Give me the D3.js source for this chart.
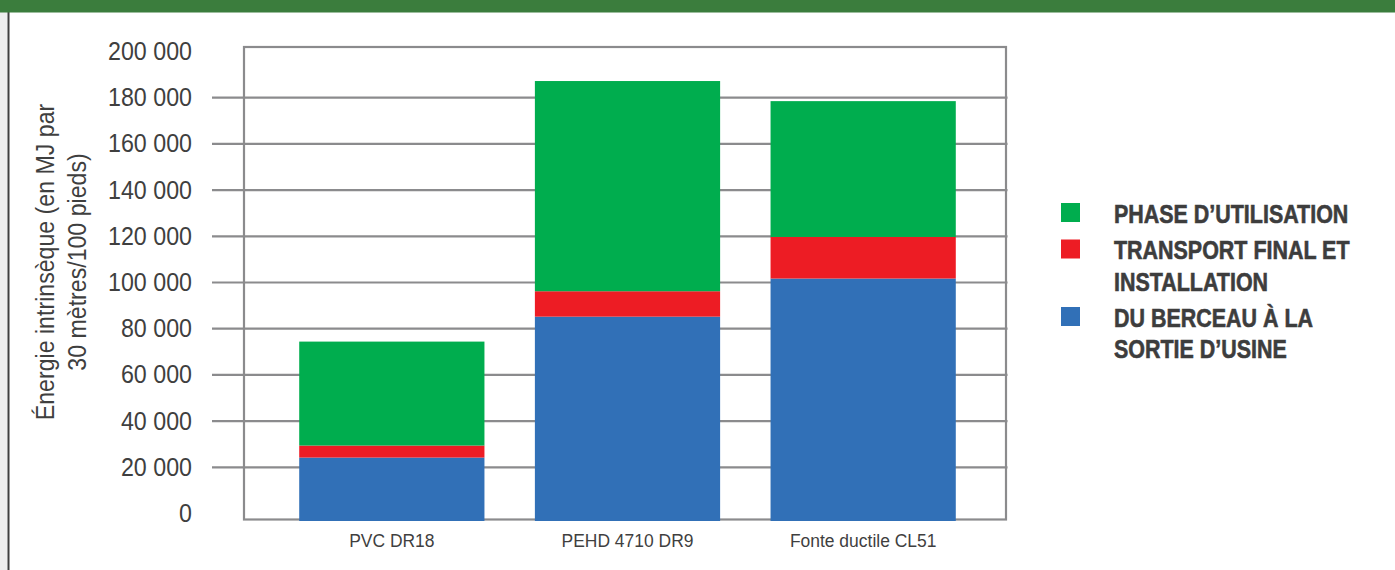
<!DOCTYPE html>
<html>
<head>
<meta charset="utf-8">
<script src="https://cdn.jsdelivr.net/npm/d3@7"></script>
<style>
  body { margin: 0; background: #fff; }
  svg { display: block; }
</style>
</head>
<body>
<div id="chart"></div>
<script>
// data (MJ per 30 m / 100 ft)
var categories = ['PVC DR18', 'PEHD 4710 DR9', 'Fonte ductile CL51'];
var berceau = [24000, 85000, 101500];      // du berceau a la sortie d'usine
var transport = [5200, 11000, 18000];      // transport final et installation
var utilisation = [45000, 91000, 58800];   // phase d'utilisation
var yTicks = [0, 20000, 40000, 60000, 80000, 100000, 120000, 140000, 160000, 180000, 200000];
var seriesKeys = ['berceau', 'transport', 'utilisation'];
var seriesColors = ['#3170b7', '#ed1c24', '#00ad4e'];
var legendItems = [
  { key: 'utilisation', lines: ['PHASE D\u2019UTILISATION'] },
  { key: 'transport', lines: ['TRANSPORT FINAL ET', 'INSTALLATION'] },
  { key: 'berceau', lines: ['DU BERCEAU \u00C0 LA', 'SORTIE D\u2019USINE'] }
];
var yTitle = ['\u00C9nergie intrins\u00E8que (en MJ par', '30 m\u00E8tres/100 pieds)'];

var W = 1395, H = 570;
var frame = { left: 244, right: 1006, top: 47, bottom: 519.5 };
var FONT = '"Liberation Sans", Arial, sans-serif';

// squeeze text horizontally to mimic the condensed face of the original
function condense(sel, k) {
  sel.each(function() {
    var n = this.getComputedTextLength();
    d3.select(this).attr('textLength', n * k).attr('lengthAdjust', 'spacingAndGlyphs');
  });
}

var table = categories.map(function(c, i) {
  return { cat: c, berceau: berceau[i], transport: transport[i], utilisation: utilisation[i] };
});
var stacked = d3.stack().keys(seriesKeys)(table);
var color = d3.scaleOrdinal().domain(seriesKeys).range(seriesColors);

var x = d3.scaleBand().domain(categories).range([274, 981]).paddingInner(0.214).paddingOuter(0.107);
var y = d3.scaleLinear().domain([0, 200000]).range([513, 51]);

var fmt = d3.formatLocale({ decimal: ',', thousands: ' ', grouping: [3], currency: ['', ''] }).format(',d');

var svg = d3.select('#chart').append('svg').attr('width', W).attr('height', H);

svg.append('rect').attr('width', W).attr('height', H).attr('fill', '#fff');
// page edge + header band
svg.append('rect').attr('x', 0).attr('y', 0).attr('width', 7.5).attr('height', H).attr('fill', '#efefef');
svg.append('rect').attr('x', 7.5).attr('y', 0).attr('width', 2).attr('height', H).attr('fill', '#404040');
svg.append('rect').attr('x', 0).attr('y', 0).attr('width', W).attr('height', 12.5).attr('fill', '#3b7d3d');

// gridlines + tick labels
var yAxis = d3.axisLeft(y).tickValues(yTicks).tickFormat(fmt)
  .tickSize(-(1007.5 - 212)).tickPadding(20);
var gy = svg.append('g').attr('transform', 'translate(212,0)').call(yAxis);
gy.select('.domain').remove();
gy.selectAll('.tick line')
  .attr('stroke', '#8b8b8d').attr('stroke-width', 2.2)
  .filter(function(d) { return d === 0 || d === 200000; }).remove();
gy.selectAll('.tick text')
  .attr('fill', '#3f3f3f')
  .style('font-family', FONT)
  .style('font-size', '25px')
  .attr('dy', '0.34em')
  .call(condense, 0.93);

// plot frame
svg.append('rect')
  .attr('x', frame.left).attr('y', frame.top)
  .attr('width', frame.right - frame.left).attr('height', frame.bottom - frame.top)
  .attr('fill', 'none').attr('stroke', '#8b8b8d').attr('stroke-width', 2.2);

// stacked bars
svg.append('g').selectAll('g').data(stacked).join('g')
  .attr('fill', function(s) { return color(s.key); })
  .selectAll('rect').data(function(s) { return s; }).join('rect')
    .attr('x', function(d) { return x(d.data.cat); })
    .attr('width', x.bandwidth())
    .attr('y', function(d) { return y(d[1]); })
    .attr('height', function(d) {
      var base = d[0] === 0 ? frame.bottom + 1.5 : y(d[0]);
      return base - y(d[1]);
    });

// category labels
svg.append('g').selectAll('text').data(categories).join('text')
  .attr('x', function(c) { return x(c) + x.bandwidth() / 2; })
  .attr('y', 547)
  .attr('text-anchor', 'middle')
  .attr('fill', '#3f3f3f')
  .style('font-family', FONT)
  .style('font-size', '18px')
  .text(function(c) { return c; })
  .call(condense, 0.97);

// y title, two lines
svg.append('g').attr('transform', 'translate(0,262) rotate(-90)')
  .selectAll('text').data(yTitle).join('text')
    .attr('x', 0)
    .attr('y', function(d, i) { return 54 + i * 32; })
    .attr('text-anchor', 'middle')
    .attr('fill', '#3f3f3f')
    .style('font-family', FONT)
    .style('font-size', '26px')
    .text(function(d) { return d; })
    .call(condense, 0.89);

// legend (text squeezed with a transform so it stays within 1395px)
var lg = svg.append('g').selectAll('g').data(legendItems).join('g')
  .attr('transform', function(d, i) { return 'translate(1061,' + [203, 239.5, 307][i] + ')'; });
lg.append('rect').attr('width', 19).attr('height', 19)
  .attr('fill', function(d) { return color(d.key); });
lg.selectAll('g.line').data(function(d) { return d.lines; }).join('g')
  .attr('class', 'line')
  .attr('transform', function(d, i) { return 'translate(53,' + (19.5 + i * 31.5) + ') scale(0.825,1)'; })
  .append('text')
    .attr('fill', '#3d3d3d')
    .attr('stroke', '#3d3d3d')
    .attr('stroke-width', 0.6)
    .style('font-family', FONT)
    .style('font-weight', 'bold')
    .style('font-size', '26px')
    .text(function(d) { return d; });
</script>
</body>
</html>
